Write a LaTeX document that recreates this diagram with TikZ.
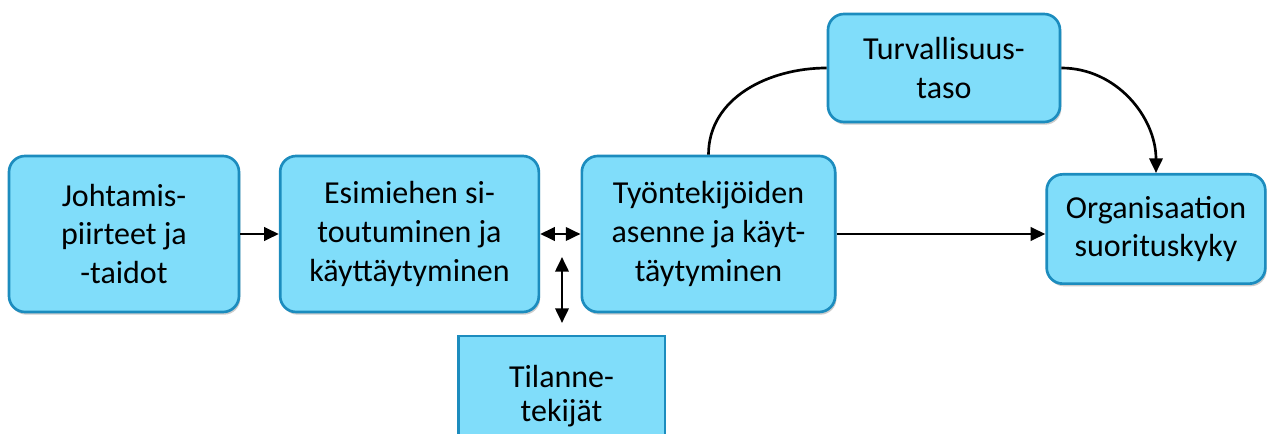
\documentclass[tikz,border=0pt]{standalone}
\usepackage{fontspec}
\setmainfont{Carlito}
\usepackage{tikz}
\usetikzlibrary{arrows.meta,shadows}
\definecolor{boxfill}{RGB}{128,221,250}
\definecolor{boxline}{RGB}{28,140,190}

\begin{document}
\begin{tikzpicture}[x=0.75pt,y=-0.75pt,
    laatikko/.style={draw=boxline,line width=2pt,fill=boxfill,rounded corners=12pt,
        align=center,font=\fontsize{24}{29}\selectfont,
        drop shadow={shadow xshift=1pt,shadow yshift=-2pt,opacity=0.4}},
    nuoli/.style={line width=2pt,-{Triangle[length=11pt,width=10pt]}},
    kaksi/.style={line width=2pt,{Triangle[length=11pt,width=10pt]}-{Triangle[length=11pt,width=10pt]}}]
            \useasboundingbox (0,0) rectangle (1272,434);
            \clip (0,0) rectangle (1272,434);
            \node[laatikko,minimum width=172.5pt,minimum height=117pt] (johto) at (124,234) {Johtamis-\\piirteet ja\\-taidot};
            \node[laatikko,minimum width=194pt,minimum height=117pt] (esimies) at (409.5,234) {Esimiehen si-\\toutuminen ja\\käyttäytyminen};
            \node[laatikko,minimum width=190pt,minimum height=117pt] (tyontek) at (708.5,234) {Työntekijöiden\\asenne ja käyt-\\täytyminen};
            \node[laatikko,minimum width=174pt,minimum height=81pt] (turva) at (944,68) {Turvallisuus-\\taso};
            \node[laatikko,minimum width=164pt,minimum height=82pt] (org) at (1156,229) {Organisaation\\suorituskyky};
            \node[laatikko,rounded corners=0pt,font=\fontsize{24}{25.5}\selectfont,minimum width=155pt,minimum height=90pt] (tilanne) at (561.5,396) {Tilanne-\\tekijät};
            \coordinate (ylos) at (562,257);
            \coordinate (alas) at (562,323);
            \draw[nuoli] (johto) -- (esimies);
            \draw[kaksi] (esimies) -- (tyontek);
            \draw[kaksi] (ylos) -- (alas);
            \draw[nuoli] (tyontek.east) -- (tyontek.east -| org.west);
            \draw[line width=2pt] (tyontek.north) to[out=90,in=180] (turva.west);
            \draw[nuoli] (turva.east) to[out=0,in=90] (org.north);
        \end{tikzpicture}
\end{document}
